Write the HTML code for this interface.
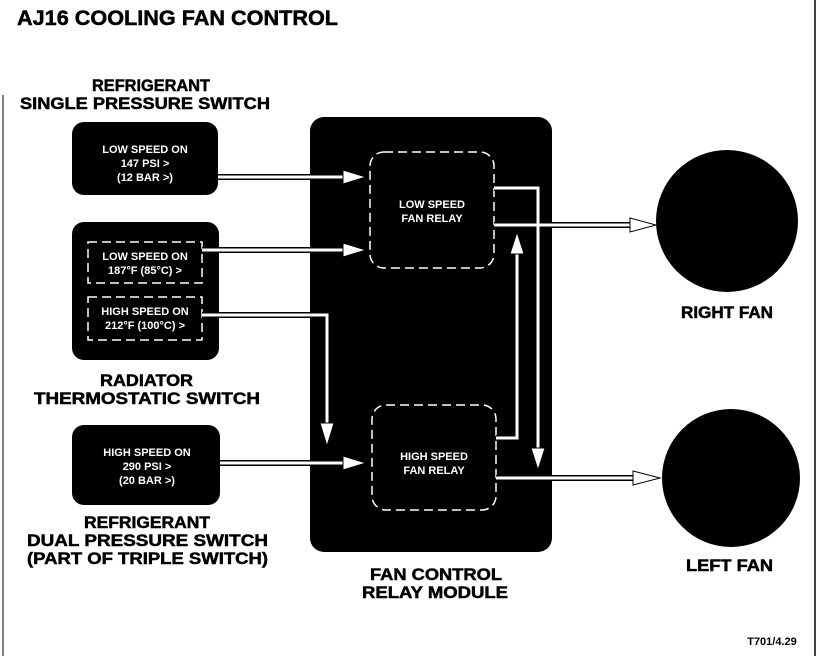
<!DOCTYPE html>
<html><head><meta charset="utf-8"><style>
html,body{margin:0;padding:0;background:#fff;}
svg{display:block;}
text{font-family:"Liberation Sans",sans-serif;font-weight:bold;}
.h{stroke:#000;stroke-width:0.5;}
</style></head><body>
<svg width="832" height="656" viewBox="0 0 832 656" xmlns="http://www.w3.org/2000/svg">
<rect width="832" height="656" fill="#fff"/>
<line x1="815" y1="0" x2="815" y2="656" stroke="#000" stroke-width="1.5"/>
<line x1="3" y1="95" x2="3" y2="656" stroke="#000" stroke-width="1"/>
<text class="h" x="17" y="25" font-size="21" textLength="321" lengthAdjust="spacingAndGlyphs">AJ16 COOLING FAN CONTROL</text>
<g font-size="16.5" class="h" text-anchor="start">
<text x="92" y="91" textLength="118" lengthAdjust="spacingAndGlyphs">REFRIGERANT</text>
<text x="20" y="109" textLength="250" lengthAdjust="spacingAndGlyphs">SINGLE PRESSURE SWITCH</text>
<text x="100" y="386" textLength="93" lengthAdjust="spacingAndGlyphs">RADIATOR</text>
<text x="34" y="404" textLength="226" lengthAdjust="spacingAndGlyphs">THERMOSTATIC SWITCH</text>
<text x="84" y="528" textLength="126" lengthAdjust="spacingAndGlyphs">REFRIGERANT</text>
<text x="27" y="546" textLength="241" lengthAdjust="spacingAndGlyphs">DUAL PRESSURE SWITCH</text>
<text x="27" y="564" textLength="241" lengthAdjust="spacingAndGlyphs">(PART OF TRIPLE SWITCH)</text>
<text x="370" y="580" textLength="132" lengthAdjust="spacingAndGlyphs">FAN CONTROL</text>
<text x="362" y="598" textLength="146" lengthAdjust="spacingAndGlyphs">RELAY MODULE</text>
<text x="681" y="318" textLength="92" lengthAdjust="spacingAndGlyphs">RIGHT FAN</text>
<text x="686" y="571" textLength="87" lengthAdjust="spacingAndGlyphs">LEFT FAN</text>
</g>
<text x="772" y="645" font-size="11" text-anchor="middle" font-weight="normal">T701/4.29</text>
<rect x="72" y="122" width="146" height="73" rx="12" fill="#000"/>
<rect x="72" y="222" width="147" height="138" rx="12" fill="#000"/>
<rect x="72" y="425" width="148" height="80" rx="12" fill="#000"/>
<rect x="310" y="117" width="242" height="435" rx="14" fill="#000"/>
<circle cx="727" cy="221" r="71" fill="#000"/>
<circle cx="731" cy="478" r="69" fill="#000"/>
<g fill="none" stroke="#fff" stroke-width="1.5" stroke-dasharray="9,5">
<rect x="88" y="242" width="114" height="41"/>
<rect x="88" y="297" width="114" height="43"/>
<rect x="370" y="152" width="124" height="116" rx="14"/>
<rect x="372" y="405" width="124" height="105" rx="14"/>
</g>
<g fill="#fff" font-size="11" text-anchor="middle" font-weight="normal">
<text x="145" y="153">LOW SPEED ON</text>
<text x="145" y="167">147 PSI &gt;</text>
<text x="145" y="181">(12 BAR &gt;)</text>
<text x="145" y="260">LOW SPEED ON</text>
<text x="145" y="274">187°F (85°C) &gt;</text>
<text x="145" y="315">HIGH SPEED ON</text>
<text x="145" y="329">212°F (100°C) &gt;</text>
<text x="147" y="456">HIGH SPEED ON</text>
<text x="147" y="470">290 PSI &gt;</text>
<text x="147" y="484">(20 BAR &gt;)</text>
<text x="432" y="208">LOW SPEED</text>
<text x="432" y="222">FAN RELAY</text>
<text x="434" y="460">HIGH SPEED</text>
<text x="434" y="474">FAN RELAY</text>
</g>
<g fill="none" stroke-linejoin="miter">
<g stroke="#000" stroke-width="6">
<path d="M218 177H345"/><path d="M202 250H345"/><path d="M202 315H327V425"/><path d="M220 463H345"/>
<path d="M494 188H538V455"/><path d="M494 225H632"/><path d="M496 438H517V250"/><path d="M496 478H635"/>
</g>
<g stroke="#fff" stroke-width="3">
<path d="M218 177H345"/><path d="M202 250H345"/><path d="M202 315H327V425"/><path d="M220 463H345"/>
<path d="M494 188H538V455"/><path d="M494 225H632"/><path d="M496 438H517V250"/><path d="M496 478H635"/>
</g>
</g>
<g fill="#fff" stroke="#000" stroke-width="1">
<path d="M343 170L366 177L343 184Z"/>
<path d="M343 243L366 250L343 257Z"/>
<path d="M343 456L366 463L343 470Z"/>
<path d="M320 423L327 446L334 423Z"/>
<path d="M531 448L538 470L545 448Z"/>
<path d="M510 254L517 232L524 254Z"/>
<path d="M630 218L656 225L630 232Z"/>
<path d="M633 471L660 478L633 485Z"/>
</g>
</svg>
</body></html>
